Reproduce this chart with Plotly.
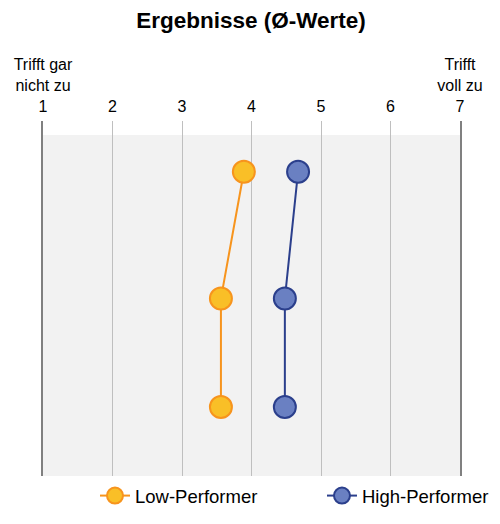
import plotly.graph_objects as go

title = "Ergebnisse (Ø-Werte)"
tick_vals = [1, 2, 3, 4, 5, 6, 7]
tick_text = ["Trifft gar<br>nicht zu<br>1", "2", "3", "4", "5", "6", "Trifft<br>voll zu<br>7"]

row_pos = [3.0, 1.75, 0.68]
low_perf = [3.89, 3.56, 3.56]
high_perf = [4.67, 4.48, 4.48]

fig = go.Figure()
fig.add_trace(go.Scatter(
    x=low_perf, y=row_pos, mode="lines+markers", name="Low-Performer",
    line=dict(color="#F7941D", width=2),
    marker=dict(size=22, color="#F9BF27", line=dict(color="#F7941D", width=2)),
    legend="legend",
))
fig.add_trace(go.Scatter(
    x=high_perf, y=row_pos, mode="lines+markers", name="High-Performer",
    line=dict(color="#2B3F8C", width=2),
    marker=dict(size=22, color="#6A80C2", line=dict(color="#2B3F8C", width=2)),
    legend="legend2",
))

fig.add_shape(type="rect", xref="paper", yref="paper", x0=0, x1=1, y0=0, y1=0.9606,
              fillcolor="#F2F2F2", line=dict(width=0), layer="below")

legend_style = dict(orientation="h", xanchor="left", y=-0.110, yanchor="bottom",
                    font=dict(size=18.5), bgcolor="rgba(0,0,0,0)")

fig.update_layout(
    width=484, height=508,
    margin=dict(l=35, r=32, t=113, b=40, autoexpand=False),
    paper_bgcolor="white", plot_bgcolor="rgba(0,0,0,0)",
    font=dict(family="Liberation Sans, Arial, sans-serif", color="#000000", size=15),
    title=dict(text="<b>" + title + "</b>", x=0.502, xanchor="center", y=0.976, yanchor="middle",
               font=dict(size=22.5)),
    xaxis=dict(side="top", range=[1, 7], tickvals=tick_vals, ticktext=tick_text,
               showgrid=True, gridcolor="#BFBFBF", gridwidth=1, zeroline=False,
               showline=False, ticks="", tickfont=dict(size=16), automargin=False,
               ticklabelstandoff=5),
    yaxis=dict(range=[0, 3.5], showgrid=False, zeroline=False, showticklabels=False,
               showline=True, mirror=True, linecolor="#808080", linewidth=2, ticks="",
               automargin=False),
    legend=dict(x=0.1247, **legend_style),
    legend2=dict(x=0.669, **legend_style),
    showlegend=True,
)

fig.write_html("out.html")
